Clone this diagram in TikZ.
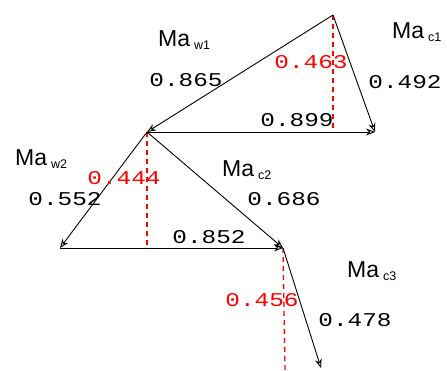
\documentclass[tikz,border=0pt]{standalone}
\usepackage{fontspec}
\usepackage{graphicx}
\setmainfont{Liberation Sans}
\newfontfamily\valfont{Liberation Mono}
\usetikzlibrary{arrows.meta}

\newcommand{\masub}[1]{Ma\hspace{4pt}\raisebox{-2.5pt}{\fontsize{12.5}{12.5}\selectfont #1}}
\newcommand{\valtext}[1]{\scalebox{1.25}[1]{#1}}

\begin{document}
\begin{tikzpicture}[
    x=1pt, y=-1pt,
    vec/.style={-{Stealth[open,length=9pt,width=7pt]}, line width=0.9pt},
    proj/.style={draw=red, dash pattern=on 5pt off 4pt, line width=1.3pt},
    maname/.style={font=\fontsize{23}{23}\selectfont, inner sep=0pt, anchor=base west},
    val/.style={font=\valfont\fontsize{19.5}{19.5}\selectfont, inner sep=0pt},
    redval/.style={val, text=red}
]
    \useasboundingbox (0,0) rectangle (447,371);

    % Points of the vector triangles
    \coordinate (a1) at (333,15);
    \coordinate (c1) at (375,132);
    \coordinate (w1) at (147,132);
    \coordinate (w2) at (60,248);
    \coordinate (c2) at (283,248);
    \coordinate (c3) at (321,368);

    % Feet of the projections
    \coordinate (f1) at (333,132);
    \coordinate (f2) at (147,248);
    \coordinate (f3) at (285,371);

    % Projections
    \draw[proj] (a1) -- (f1);
    \draw[proj] (w1) -- (f2);
    \draw[proj] (c2) -- (f3);

    % Vectors
    \draw[vec] (a1) -- (c1);
    \draw[vec] (a1) -- (w1);
    \draw[vec] (w1) -- (c1);
    \draw[vec] (w1) -- (w2);
    \draw[vec] (w1) -- (c2);
    \draw[vec] (w2) -- (c2);
    \draw[vec] (c2) -- (c3);

    % Names
    \node[maname] (nw1) at (158,47) {\masub{w1}};
    \node[maname] (nc1) at (392,39) {\masub{c1}};
    \node[maname] (nw2) at (15,166) {\masub{w2}};
    \node[maname] (nc2) at (222,177) {\masub{c2}};
    \node[maname] (nc3) at (347,278) {\masub{c3}};

    % Values
    \node[val] (v1) at (186,80) {\valtext{0.865}};
    \node[val] (v2) at (405,82) {\valtext{0.492}};
    \node[val] (v3) at (297,120) {\valtext{0.899}};
    \node[val] (v4) at (65,199) {\valtext{0.552}};
    \node[val] (v5) at (284,199) {\valtext{0.686}};
    \node[val] (v6) at (209,237) {\valtext{0.852}};
    \node[val] (v7) at (355,320) {\valtext{0.478}};
    \node[redval] (r1) at (311,62) {\valtext{0.463}};
    \node[redval] (r2) at (124,178) {\valtext{0.444}};
    \node[redval] (r3) at (262,300) {\valtext{0.456}};
\end{tikzpicture}
\end{document}
